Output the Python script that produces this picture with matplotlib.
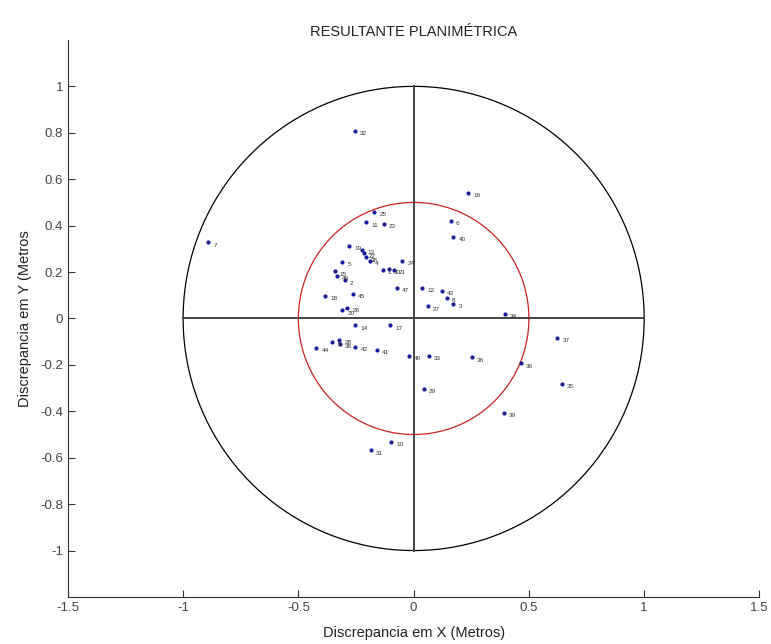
import numpy as np
import matplotlib.pyplot as plt

plt.rcParams['font.family'] = ['Liberation Sans', 'DejaVu Sans']

# discrepancias planimetricas por ponto (metros)
pontos = ['7', '32', '16', '25', '11', '23', '6', '40', '19', '13',
          '22', '38', '4', '5', '15', '46', '2', '18', '45', '20',
          '26', '24', '1', '30', '21', '47', '12', '43', '8', '3',
          '27', '14', '17', '44', '9', '28', '38', '42', '41', '40',
          '33', '29', '34', '37', '36', '36', '35', '39', '10', '31']
dx = [-0.891, -0.255, 0.237, -0.170, -0.207, -0.130, 0.160, 0.172, -0.279, -0.224,
      -0.217, -0.207, -0.189, -0.309, -0.342, -0.333, -0.298, -0.384, -0.265, -0.309,
      -0.287, -0.049, -0.134, -0.108, -0.086, -0.073, 0.036, 0.121, 0.143, 0.172,
      0.062, -0.253, -0.102, -0.422, -0.352, -0.323, -0.320, -0.253, -0.160, -0.022,
      0.067, 0.044, 0.397, 0.623, 0.252, 0.466, 0.642, 0.390, -0.097, -0.185]
dy = [0.328, 0.807, 0.540, 0.460, 0.414, 0.408, 0.420, 0.352, 0.313, 0.297,
      0.280, 0.263, 0.248, 0.244, 0.203, 0.185, 0.164, 0.098, 0.107, 0.035,
      0.046, 0.247, 0.208, 0.211, 0.208, 0.131, 0.131, 0.118, 0.089, 0.063,
      0.052, -0.030, -0.030, -0.128, -0.102, -0.092, -0.110, -0.121, -0.136, -0.160,
      -0.160, -0.304, 0.020, -0.085, -0.167, -0.193, -0.283, -0.408, -0.531, -0.568]

raio_ext = 1.0
raio_int = 0.5

fig = plt.figure(figsize=(7.71, 6.44), dpi=100)
ax = fig.add_axes([0.088, 0.073, 0.897, 0.865])

t = np.linspace(0, 2 * np.pi, 400)
ax.plot(raio_ext * np.cos(t), raio_ext * np.sin(t), color='black', lw=0.9)
ax.plot(raio_int * np.cos(t), raio_int * np.sin(t), color='#cc2222', lw=0.9)
ax.plot([-raio_ext, raio_ext], [0, 0], color='#444444', lw=1.4)
ax.plot([0, 0], [-raio_ext, raio_ext], color='#444444', lw=1.4)

ax.plot(dx, dy, '.', color='#1a1a99', markersize=4)
for nome, x, y in zip(pontos, dx, dy):
    ax.text(x + 0.022, y - 0.012, nome, fontsize=4.6, color='#333333',
            ha='left', va='center')

ax.set_xlim(-1.5, 1.5)
ax.set_ylim(-1.2, 1.2)
ax.set_xticks([-1.5, -1, -0.5, 0, 0.5, 1, 1.5])
ax.set_xticklabels(['-1.5', '-1', '-0.5', '0', '0.5', '1', '1.5'])
ax.set_yticks([-1, -0.8, -0.6, -0.4, -0.2, 0, 0.2, 0.4, 0.6, 0.8, 1])
ax.set_yticklabels(['-1', '-0.8', '-0.6', '-0.4', '-0.2', '0',
                    '0.2', '0.4', '0.6', '0.8', '1'])
ax.spines['top'].set_visible(False)
ax.spines['right'].set_visible(False)
for s in ('left', 'bottom'):
    ax.spines[s].set_color('#333333')
ax.tick_params(direction='in', length=5, labelsize=9.5, colors='#333333',
               labelcolor='#444444')

ax.set_title('RESULTANTE PLANIMÉTRICA', fontsize=10.5, color='#222222', pad=3)
ax.set_xlabel('Discrepancia em X (Metros)', fontsize=10.5, color='#222222', labelpad=9)
ax.set_ylabel('Discrepancia em Y (Metros', fontsize=10.5, color='#222222', labelpad=6)

fig.savefig('out.png', dpi=100)
